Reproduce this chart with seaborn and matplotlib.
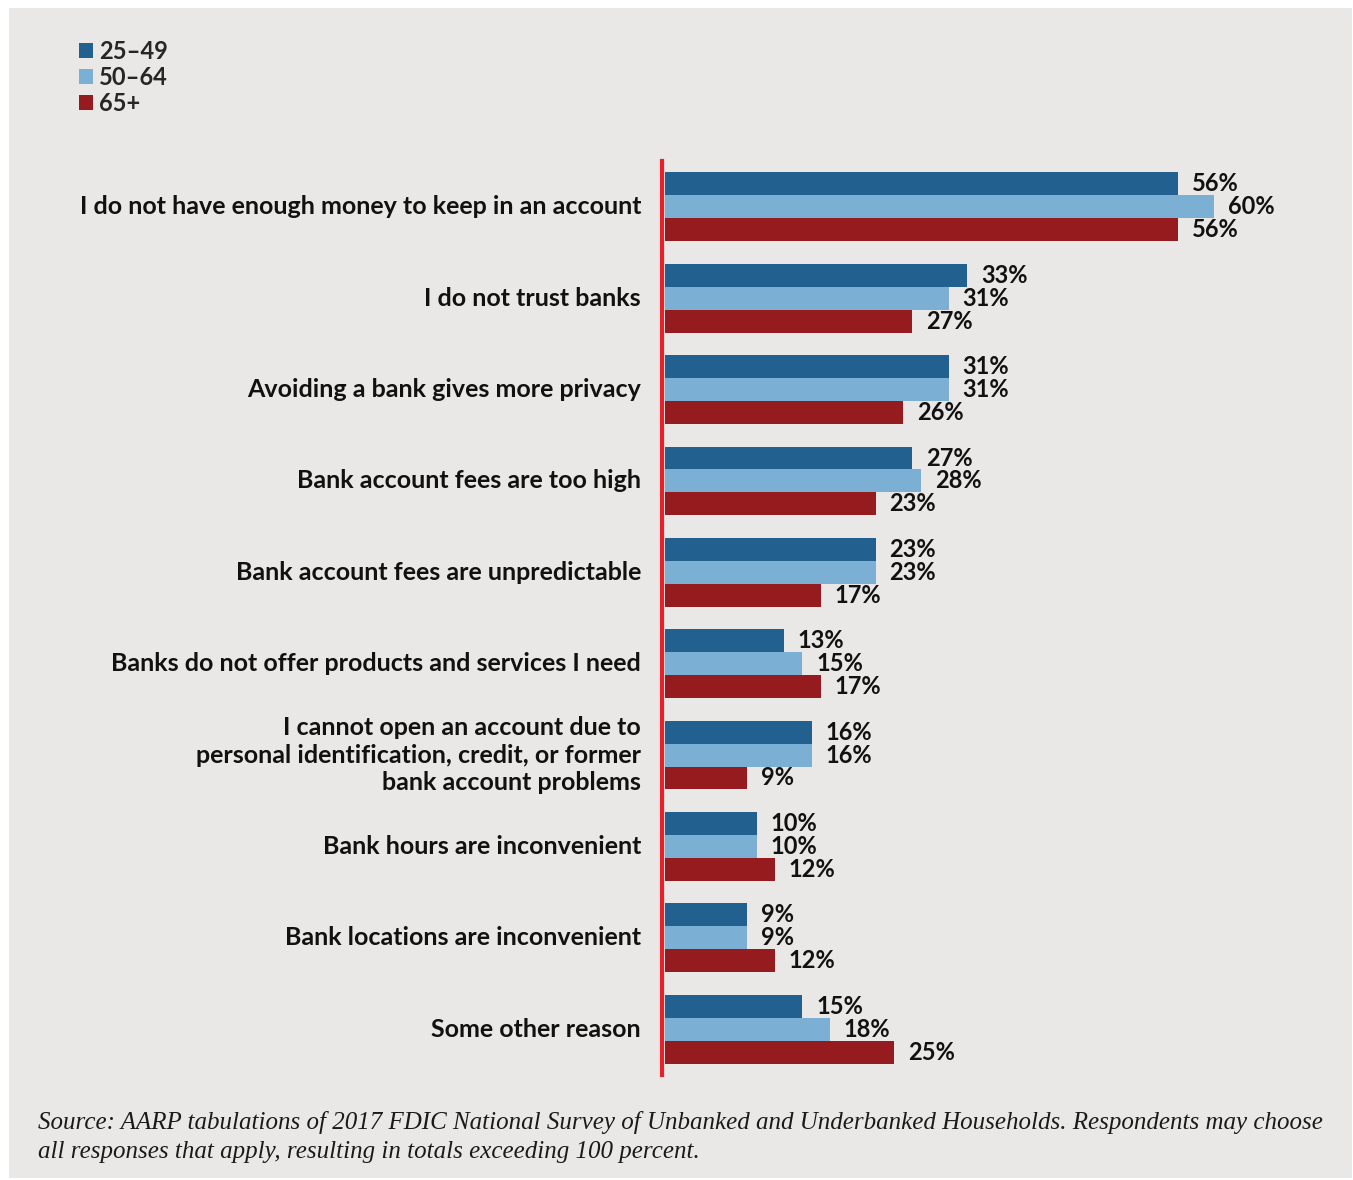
import matplotlib
matplotlib.use("Agg")
import matplotlib.pyplot as plt
import matplotlib.transforms as mtransforms
import seaborn as sns
import pandas as pd
from matplotlib.patches import Rectangle, Patch

categories = [
    "I do not have enough money to keep in an account",
    "I do not trust banks",
    "Avoiding a bank gives more privacy",
    "Bank account fees are too high",
    "Bank account fees are unpredictable",
    "Banks do not offer products and services I need",
    "I cannot open an account due to\npersonal identification, credit, or former\nbank account problems",
    "Bank hours are inconvenient",
    "Bank locations are inconvenient",
    "Some other reason",
]
groups = ["25\u201349", "50\u201364", "65+"]
vals_25_49 = [56, 33, 31, 27, 23, 13, 16, 10, 9, 15]
vals_50_64 = [60, 31, 31, 28, 23, 15, 16, 10, 9, 18]
vals_65 = [56, 27, 26, 23, 17, 17, 9, 12, 12, 25]
colors = ["#21608f", "#7bafd4", "#961b1f"]

rows = []
for g, vals in zip(groups, [vals_25_49, vals_50_64, vals_65]):
    for c, v in zip(categories, vals):
        rows.append({"reason": c, "group": g, "value": v})
df = pd.DataFrame(rows)

sns.set_theme(style="white")
plt.rcParams["font.family"] = ["Lato", "DejaVu Sans"]

W, H = 1353, 1180
fig = plt.figure(figsize=(W / 100, H / 100), dpi=100, facecolor="white")
fig.patches.append(Rectangle((9 / W, 1 - 1178 / H), (1352 - 9) / W, (1178 - 8) / H,
                             transform=fig.transFigure, facecolor="#e9e8e6",
                             edgecolor="none", zorder=-10))

left = 665 / W
right = 1306 / W
top = 1 - 161.3 / H
bottom = 1 - 1074.7 / H
ax = fig.add_axes([left, bottom, right - left, top - bottom])
ax.set_facecolor("none")
ax.set_zorder(2)

sns.barplot(data=df, y="reason", x="value", hue="group", palette=colors,
            orient="h", width=0.755, ax=ax, legend=False, saturation=1,
            edgecolor="none")

ax.set_xlim(0, 70)
ax.set_ylim(9.5, -0.5)
ax.set_xlabel("")
ax.set_ylabel("")
ax.set_xticks([])
ax.set_yticks(range(len(categories)))
ax.set_yticklabels([""] * len(categories))
ax.tick_params(axis="y", length=0)
for s in ["top", "right", "bottom"]:
    ax.spines[s].set_visible(False)
ax.spines["left"].set_color("#e8202a")
ax.spines["left"].set_linewidth(3)
ax.spines["left"].set_position(("outward", 2))

# category labels, right-aligned left of the axis line
lab_trans = mtransforms.offset_copy(ax.get_yaxis_transform(), fig=fig,
                                    x=-24, y=0, units="dots")
for i, cat in enumerate(categories):
    ax.text(0, i, cat, transform=lab_trans, ha="right", va="center",
            multialignment="right", fontsize=18, fontweight="bold",
            color="#111111", linespacing=1.22, clip_on=False)

for cont in ax.containers:
    ax.bar_label(cont, fmt="%d%%", padding=10, fontsize=17, fontweight="bold",
                 color="#111111")

handles = [Patch(facecolor=c, edgecolor="none") for c in colors]
fig.legend(handles, groups, loc="upper left", bbox_to_anchor=(79 / W, 1 - 40 / H),
           frameon=False, prop={"weight": "bold", "size": 17},
           handlelength=0.6, handleheight=0.6, handletextpad=0.25,
           labelspacing=0.12, borderpad=0, borderaxespad=0)

src1 = ("Source: AARP tabulations of 2017 FDIC National Survey of Unbanked and "
        "Underbanked Households. Respondents may choose")
src2 = "all responses that apply, resulting in totals exceeding 100 percent."
for txt, yy in [(src1, 1122), (src2, 1152)]:
    fig.text(38 / W, 1 - yy / H, txt, family=["Liberation Serif"], style="italic",
             fontsize=18, color="#1a1a1a", va="center", ha="left")

fig.savefig("out.png", dpi=100, facecolor="white")
